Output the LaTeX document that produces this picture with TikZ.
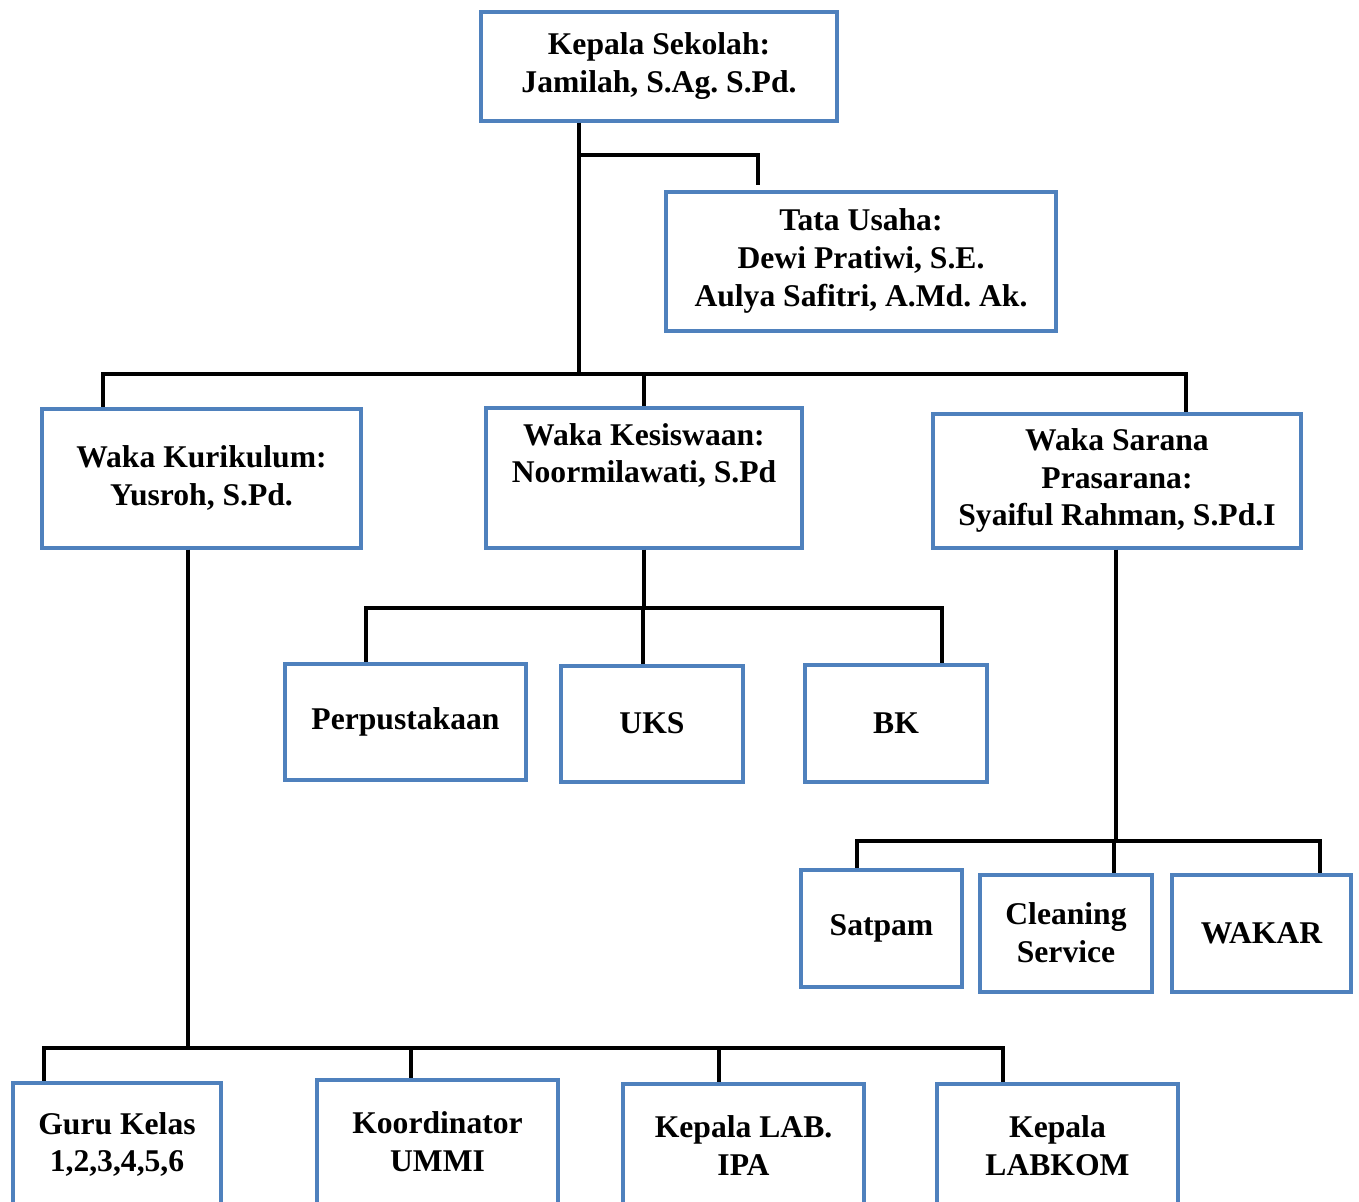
\documentclass[tikz,border=0pt]{standalone}
\usepackage{fontspec}
\setmainfont{Liberation Serif}
\usetikzlibrary{calc}
\definecolor{boxblue}{HTML}{4F81BD}
\frenchspacing

\begin{document}
\begin{tikzpicture}[x=0.02cm, y=-0.02cm,
            box/.style={draw=boxblue, line width=0.08cm, rectangle, align=center,
                        font=\fontsize{18}{21.5}\selectfont\bfseries, inner sep=0pt},
            link/.style={draw, line width=0.095cm}]
        \clip (0,0) rectangle (1359,1201);
        \fill[white] (0,0) rectangle (1359,1201);

        % pimpinan
        \node[box, minimum width=356*0.02cm, minimum height=109*0.02cm] (kepsek) at (659,66)
            {Kepala Sekolah:\\Jamilah, S.Ag. S.Pd.};
        \node[box, minimum width=390*0.02cm, minimum height=139*0.02cm] (tu) at (861,261)
            {Tata Usaha:\\Dewi Pratiwi, S.E.\\Aulya Safitri, A.Md. Ak.};

        % wakil kepala
        \node[box, minimum width=319*0.02cm, minimum height=139*0.02cm] (kur) at (201.5,478)
            {Waka Kurikulum:\\Yusroh, S.Pd.};
        \node[box, minimum width=316*0.02cm, minimum height=140*0.02cm] (kes) at (644,477.5)
            {Waka Kesiswaan:\\Noormilawati, S.Pd\\\strut};
        \node[box, minimum width=368*0.02cm, minimum height=134*0.02cm] (sar) at (1117,480.5)
            {Waka Sarana\\Prasarana:\\Syaiful Rahman, S.Pd.I};

        % kesiswaan
        \node[box, minimum width=241*0.02cm, minimum height=116*0.02cm] (perpus) at (405.5,721.5) {Perpustakaan};
        \node[box, minimum width=182*0.02cm, minimum height=116*0.02cm] (uks) at (652,723.5) {UKS};
        \node[box, minimum width=182*0.02cm, minimum height=117*0.02cm] (bk) at (896,723) {BK};

        % sarana prasarana
        \node[box, minimum width=161*0.02cm, minimum height=117*0.02cm] (satpam) at (881.5,928) {Satpam};
        \node[box, minimum width=172*0.02cm, minimum height=117*0.02cm] (cs) at (1066,933) {Cleaning\\Service};
        \node[box, minimum width=179*0.02cm, minimum height=117*0.02cm] (wakar) at (1261.5,933) {WAKAR};

        % kurikulum
        \node[box, minimum width=208*0.02cm, minimum height=124*0.02cm] (guru) at (117,1144.5) {Guru Kelas\\1,2,3,4,5,6};
        \node[box, minimum width=241*0.02cm, minimum height=124*0.02cm] (ummi) at (437.5,1141.5) {Koordinator\\UMMI};
        \node[box, minimum width=241*0.02cm, minimum height=124*0.02cm] (ipa) at (743.5,1145.5) {Kepala LAB.\\IPA};
        \node[box, minimum width=241*0.02cm, minimum height=124*0.02cm] (labkom) at (1057.5,1145.5) {Kepala\\LABKOM};

        \coordinate (jtu) at (579,155);
        \coordinate (jwaka) at (579,374);
        \coordinate (jkur) at (188,1048);
        \coordinate (jkes) at (644,608);
        \coordinate (jsar) at (1116,841);

        \draw[link] (kepsek.south -| jwaka) -- (jwaka);
        \draw[link] (jtu) -| ($(tu.north)+(-103,-5)$);
        \draw[link] ($(kur.north)+(-98.5,0)$) |- (jwaka) -| ($(sar.north)+(69,0)$);
        \draw[link] (jwaka -| kes.north) -- (kes.north);

        \draw[link] (kes.south) -- (jkes);
        \draw[link] ($(perpus.north)+(-39.5,0)$) |- (jkes) -| ($(bk.north)+(46,0)$);
        \draw[link] ($(uks.north)+(-9,0)$) -- (jkes -| {$(uks.north)+(-9,0)$});

        \draw[link] (sar.south -| jsar) -- (jsar);
        \draw[link] ($(satpam.north)+(-24.5,0)$) |- (jsar) -| ($(wakar.north)+(58.5,0)$);
        \draw[link] ($(cs.north)+(48,0)$) -- (jsar -| {$(cs.north)+(48,0)$});

        \draw[link] (kur.south -| jkur) -- (jkur);
        \draw[link] ($(guru.north)+(-73,0)$) |- (jkur) -| ($(labkom.north)+(-54.5,0)$);
        \draw[link] ($(ummi.north)+(-26.5,0)$) -- (jkur -| {$(ummi.north)+(-26.5,0)$});
        \draw[link] ($(ipa.north)+(-24.5,0)$) -- (jkur -| {$(ipa.north)+(-24.5,0)$});
\end{tikzpicture}
\end{document}
